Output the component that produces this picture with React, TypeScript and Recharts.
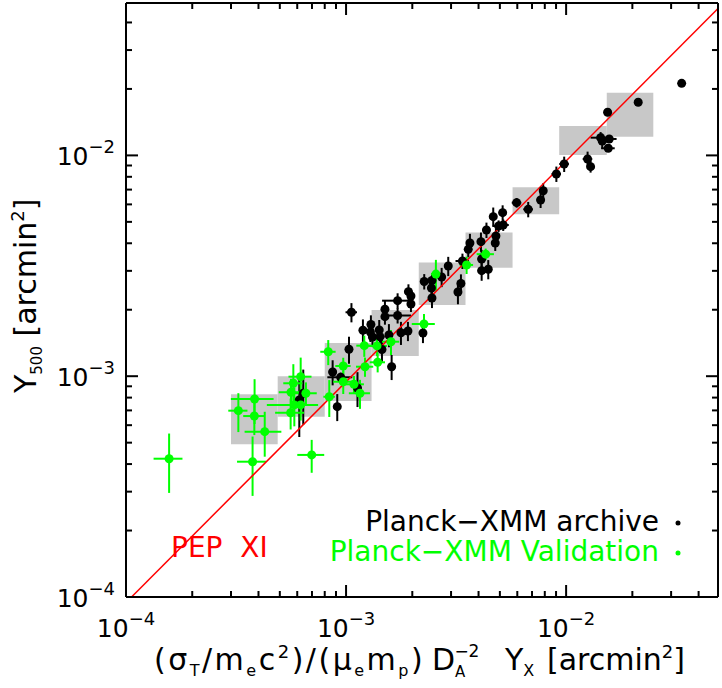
import React from 'react';
import { ScatterChart, Scatter, XAxis, YAxis, ErrorBar, ReferenceArea, ReferenceLine } from 'recharts';

const font = 'DejaVu Sans';
const domain = [1e-4, 0.049];
const majorTicks = [1e-4, 1e-3, 1e-2];
const tickValues = [
  1e-4, 2e-4, 3e-4, 4e-4, 5e-4, 6e-4, 7e-4, 8e-4, 9e-4,
  1e-3, 2e-3, 3e-3, 4e-3, 5e-3, 6e-3, 7e-3, 8e-3, 9e-3,
  1e-2, 2e-2, 3e-2, 4e-2,
];
const tickExponents = ['−4', '−3', '−2'];

// Planck-XMM archive (black)
const archiveX = [
  6.13e-4, 6.39e-4, 8.69e-4, 9.45e-4, 9.12e-4, 1.031e-3, 1.127e-3, 1.058e-3, 1.193e-3, 1.297e-3,
  1.29e-3, 1.318e-3, 1.415e-3, 1.426e-3, 1.502e-3, 1.502e-3, 1.566e-3, 1.456e-3, 1.611e-3, 1.715e-3,
  1.715e-3, 1.776e-3, 1.921e-3, 1.972e-3, 1.972e-3, 1.911e-3, 2.236e-3, 2.266e-3, 2.457e-3, 2.443e-3,
  2.457e-3, 2.719e-3, 2.913e-3, 3.327e-3, 3.224e-3, 3.38e-3, 3.655e-3, 3.591e-3, 4.345e-3, 4.102e-3,
  4.797e-3, 4.764e-3, 4.132e-3, 4.132e-3, 4.428e-3, 5.147e-3, 4.665e-3, 4.935e-3, 5.178e-3, 5.959e-3,
  6.726e-3, 7.657e-3, 7.87e-3, 9.03e-3, 9.8e-3, 1.252e-2, 1.292e-2, 1.435e-2, 1.459e-2, 1.57e-2,
  1.554e-2, 1.544e-2, 2.126e-2, 3.35e-2,
];
const archiveY = [
  7.8e-4, 8.37e-4, 1.045e-3, 9.89e-4, 7.28e-4, 1.324e-3, 8.84e-4, 1.948e-3, 1.614e-3, 1.715e-3,
  1.586e-3, 1.505e-3, 1.619e-3, 1.51e-3, 2.01e-3, 1.86e-3, 1.537e-3, 1.321e-3, 1.104e-3, 2.198e-3,
  1.883e-3, 1.574e-3, 2.414e-3, 2.307e-3, 2.123e-3, 1.602e-3, 1.569e-3, 2.685e-3, 2.713e-3, 2.509e-3,
  2.261e-3, 2.813e-3, 3.156e-3, 2.629e-3, 2.406e-3, 3.324e-3, 4.012e-3, 3.755e-3, 4.593e-3, 4.066e-3,
  4.315e-3, 4.012e-3, 3.395e-3, 3.005e-3, 3.052e-3, 5.502e-3, 5.278e-3, 4.788e-3, 4.838e-3, 6.107e-3,
  5.699e-3, 6.28e-3, 6.92e-3, 8.24e-3, 9.14e-3, 9.63e-3, 8.89e-3, 1.203e-2, 1.162e-2, 1.187e-2,
  1.077e-2, 1.568e-2, 1.74e-2, 2.12e-2,
];
// relative 1-sigma errors
const archiveRelErrX = [
  0.03, 0.03, 0.04, 0.13, 0.04, 0.04, 0.04, 0.06, 0.04, 0.04,
  0.04, 0.04, 0.04, 0.05, 0.04, 0.04, 0.04, 0.04, 0.04, 0.15,
  0.15, 0.04, 0.04, 0.04, 0.04, 0.04, 0.04, 0.04, 0.04, 0.04,
  0.04, 0.04, 0.04, 0.04, 0.04, 0.07, 0.04, 0.04, 0.04, 0.04,
  0.04, 0.04, 0.04, 0.04, 0.04, 0.04, 0.04, 0.06, 0.06, 0.05,
  0.05, 0.04, 0.04, 0.05, 0.05, 0.05, 0.03, 0.1, 0.04, 0.08,
  0.07, 0.04, 0.03, 0.02,
];
const archiveRelErrY = [
  0.32, 0.28, 0.13, 0.05, 0.14, 0.14, 0.18, 0.1, 0.12, 0.1,
  0.1, 0.1, 0.11, 0.1, 0.1, 0.08, 0.12, 0.12, 0.13, 0.08,
  0.08, 0.12, 0.08, 0.08, 0.08, 0.1, 0.1, 0.08, 0.08, 0.08,
  0.1, 0.1, 0.1, 0.1, 0.12, 0.08, 0.1, 0.08, 0.08, 0.1,
  0.08, 0.08, 0.1, 0.1, 0.1, 0.08, 0.1, 0.06, 0.06, 0.05,
  0.08, 0.08, 0.08, 0.08, 0.08, 0.08, 0.06, 0.06, 0.08, 0.04,
  0.03, 0.03, 0.03, 0.02,
];

// Planck-XMM validation (green)
const validationX = [
  1.57e-4, 3.24e-4, 3.84e-4, 3.83e-4, 4.27e-4, 3.76e-4, 6.98e-4, 5.62e-4, 5.76e-4, 6.22e-4,
  5.82e-4, 5.6e-4, 6.22e-4, 6.57e-4, 8.3e-4, 9.71e-4, 8.39e-4, 1.086e-3, 1.157e-3, 1.21e-3,
  1.382e-3, 1.6e-3, 1.219e-3, 1.392e-3, 9.71e-4, 2.26e-3, 2.56e-3, 3.53e-3, 4.31e-3,
];
const validationY = [
  4.23e-4, 6.98e-4, 7.88e-4, 6.6e-4, 5.61e-4, 4.1e-4, 4.4e-4, 8.46e-4, 9.29e-4, 9.95e-4,
  7.41e-4, 6.83e-4, 7.41e-4, 8.37e-4, 1.29e-3, 1.112e-3, 8.07e-4, 9.19e-4, 8.37e-4, 1.375e-3,
  1.371e-3, 1.433e-3, 1.104e-3, 1.156e-3, 9.44e-4, 1.723e-3, 2.9e-3, 3.19e-3, 3.57e-3,
];
const validationRelErrX = [
  0.15, 0.1, 0.22, 0.11, 0.19, 0.15, 0.14, 0.12, 0.1, 0.12,
  0.25, 0.15, 0.2, 0.12, 0.08, 0.08, 0.06, 0.11, 0.11, 0.08,
  0.11, 0.09, 0.09, 0.08, 0.1, 0.12, 0.05, 0.07, 0.09,
];
const validationRelErrY = [
  0.3, 0.2, 0.23, 0.18, 0.23, 0.3, 0.17, 0.15, 0.22, 0.22,
  0.2, 0.16, 0.15, 0.12, 0.13, 0.09, 0.19, 0.09, 0.15, 0.11,
  0.1, 0.13, 0.1, 0.1, 0.12, 0.11, 0.16, 0.09, 0.06,
];

// binned averages (grey boxes)
const binX1 = [3.0e-4, 4.89e-4, 8.0e-4, 1.306e-3, 2.14e-3, 3.49e-3, 5.71e-3, 9.3e-3, 1.53e-2];
const binX2 = [4.89e-4, 8.0e-4, 1.306e-3, 2.14e-3, 3.49e-3, 5.71e-3, 9.3e-3, 1.53e-2, 2.49e-2];
const binY1 = [4.92e-4, 6.56e-4, 7.72e-4, 1.235e-3, 2.1e-3, 3.1e-3, 5.41e-3, 1.004e-2, 1.215e-2];
const binY2 = [8.28e-4, 1.0e-3, 1.413e-3, 1.994e-3, 3.27e-3, 4.47e-3, 7.17e-3, 1.359e-2, 1.923e-2];

// PEP XI relation
const relationX = [1.06e-4, 0.049];
const relationY = [1.0e-4, 0.0463];

const toRows = (xs: number[], ys: number[], rx: number[], ry: number[]) =>
  xs.map((x, i) => ({ x, y: ys[i], ex: x * rx[i], ey: ys[i] * ry[i] }));

const archive = toRows(archiveX, archiveY, archiveRelErrX, archiveRelErrY);
const validation = toRows(validationX, validationY, validationRelErrX, validationRelErrY);

const isMajor = (v: number) => majorTicks.includes(v);

const BottomTick = (props: any) => {
  const { x, y, payload } = props;
  const major = isMajor(payload.value);
  return (
    <g>
      <line x1={x} x2={x} y1={y} y2={y - (major ? 12 : 6)} stroke="#000" strokeWidth={2} />
      {major && (
        <text x={x} y={y + 40} textAnchor="middle" fontSize={25} fontFamily={font} fill="#000">
          10<tspan dy={-12} fontSize={18}>{tickExponents[majorTicks.indexOf(payload.value)]}</tspan>
        </text>
      )}
    </g>
  );
};

const TopTick = (props: any) => {
  const { x, y, payload } = props;
  return <line x1={x} x2={x} y1={y} y2={y + (isMajor(payload.value) ? 12 : 6)} stroke="#000" strokeWidth={2} />;
};

const LeftTick = (props: any) => {
  const { x, y, payload } = props;
  const major = isMajor(payload.value);
  return (
    <g>
      <line x1={x} x2={x + (major ? 12 : 6)} y1={y} y2={y} stroke="#000" strokeWidth={2} />
      {major && (
        <text x={x - 11} y={y + 10} textAnchor="end" fontSize={25} fontFamily={font} fill="#000">
          10<tspan dy={-12} fontSize={18}>{tickExponents[majorTicks.indexOf(payload.value)]}</tspan>
        </text>
      )}
    </g>
  );
};

const RightTick = (props: any) => {
  const { x, y, payload } = props;
  return <line x1={x} x2={x - (isMajor(payload.value) ? 12 : 6)} y1={y} y2={y} stroke="#000" strokeWidth={2} />;
};

const dot = (color: string) => (p: any) => <circle cx={p.cx} cy={p.cy} r={4.5} fill={color} />;

const axisLine = { stroke: '#000', strokeWidth: 2 };

export default function App() {
  return (
    <div style={{ position: 'relative', width: 722, height: 688, background: '#fff' }}>
      <style>{'body{margin:0}'}</style>
      <ScatterChart width={722} height={688} margin={{ top: 2, right: 3, bottom: 0, left: 0 }}>
        <XAxis
          dataKey="x" type="number" scale="log" domain={domain} allowDataOverflow
          ticks={tickValues} interval={0} tickSize={0} tickMargin={0} height={91}
          axisLine={axisLine} tick={<BottomTick />}
        />
        <XAxis
          xAxisId="top" dataKey="x" orientation="top" type="number" scale="log" domain={domain} allowDataOverflow
          ticks={tickValues} interval={0} tickSize={0} tickMargin={0} height={1}
          axisLine={axisLine} tick={<TopTick />}
        />
        <YAxis
          dataKey="y" type="number" scale="log" domain={domain} allowDataOverflow
          ticks={tickValues} interval={0} tickSize={0} tickMargin={0} width={126}
          axisLine={axisLine} tick={<LeftTick />}
        />
        <YAxis
          yAxisId="right" dataKey="y" orientation="right" type="number" scale="log" domain={domain} allowDataOverflow
          ticks={tickValues} interval={0} tickSize={0} tickMargin={0} width={1}
          axisLine={axisLine} tick={<RightTick />}
        />
        {binX1.map((x1, i) => (
          <ReferenceArea
            key={i} x1={x1} x2={binX2[i]} y1={binY1[i]} y2={binY2[i]}
            fill="#c8c8c8" fillOpacity={1} stroke="none" ifOverflow="hidden"
          />
        ))}
        <Scatter data={archive} shape={dot('#000')} isAnimationActive={false}>
          <ErrorBar dataKey="ex" direction="x" width={0} stroke="#000" strokeWidth={2} isAnimationActive={false} />
          <ErrorBar dataKey="ey" direction="y" width={0} stroke="#000" strokeWidth={2} isAnimationActive={false} />
        </Scatter>
        {/* same log scales as the bottom/left axes; binding here makes the frame axes render */}
        <Scatter data={validation} xAxisId="top" yAxisId="right" shape={dot('#00ff00')} isAnimationActive={false}>
          <ErrorBar dataKey="ex" direction="x" width={0} stroke="#00ff00" strokeWidth={2} isAnimationActive={false} />
          <ErrorBar dataKey="ey" direction="y" width={0} stroke="#00ff00" strokeWidth={2} isAnimationActive={false} />
        </Scatter>
        <ReferenceLine
          segment={[{ x: relationX[0], y: relationY[0] }, { x: relationX[1], y: relationY[1] }]}
          stroke="#ff0000" strokeWidth={1.5} ifOverflow="visible"
        />
      </ScatterChart>
      <svg width={722} height={688} style={{ position: 'absolute', left: 0, top: 0, pointerEvents: 'none' }}>
        <g fontFamily={font} fontSize={28}>
          <text x={0} y={0} transform="translate(36,393) rotate(-90)" fill="#000" fontSize={30}>
            Y<tspan dy={6} fontSize={15}>500</tspan>
            <tspan dy={-6}> [arcmin</tspan>
            <tspan dy={-12} fontSize={18}>2</tspan>
            <tspan dy={12}>]</tspan>
          </text>
          <text y={670} fill="#000" fontSize={30}>
            <tspan x={154} letterSpacing={2.5}>(σ</tspan>
            <tspan dy={6} fontSize={16} letterSpacing={2.5}>T</tspan>
            <tspan dy={-6} letterSpacing={2.5}>/m</tspan>
            <tspan dy={6} fontSize={16} letterSpacing={2.5}>e</tspan>
            <tspan dy={-6} letterSpacing={2.5}>c</tspan>
            <tspan dy={-12} fontSize={18} letterSpacing={2.5}>2</tspan>
            <tspan dy={12} letterSpacing={2.5}>)/(μ</tspan>
            <tspan dy={6} fontSize={16} letterSpacing={2.5}>e</tspan>
            <tspan dy={-6} letterSpacing={2.5}>m</tspan>
            <tspan dy={6} fontSize={16} letterSpacing={2.5}>p</tspan>
            <tspan dy={-6}>)</tspan>
            <tspan x={432}>D</tspan>
            <tspan dy={7} fontSize={15}>A</tspan>
            <tspan dx={-11} dy={-20} fontSize={17}>−2</tspan>
            <tspan x={505} dy={13}>Y</tspan>
            <tspan dy={6} fontSize={16}>X</tspan>
            <tspan x={547} dy={-6}>[arcmin</tspan>
            <tspan dy={-12} fontSize={18}>2</tspan>
            <tspan dy={12}>]</tspan>
          </text>
          <text x={171} y={557} fill="#ff0000" style={{ whiteSpace: 'pre' }}>PEP  XI</text>
          <text x={659} y={531} textAnchor="end" fill="#000">Planck−XMM archive</text>
          <circle cx={678} cy={523} r={2.5} fill="#000" />
          <text x={659} y={561} textAnchor="end" fill="#00ff00">Planck−XMM Validation</text>
          <circle cx={678} cy={553} r={2.5} fill="#00ff00" />
        </g>
      </svg>
    </div>
  );
}
